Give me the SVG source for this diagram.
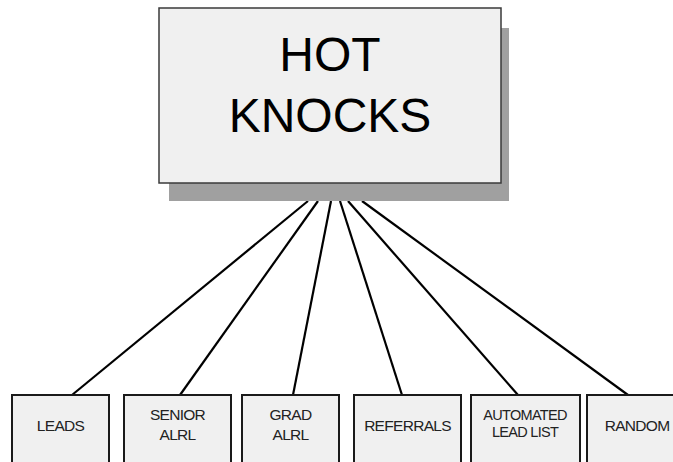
<svg xmlns="http://www.w3.org/2000/svg" width="673" height="462" viewBox="0 0 673 462">
<style>
.box{fill:#f0f0f0;stroke:#1a1a1a;stroke-width:2}
.t{font-family:"Liberation Sans",Arial,sans-serif;fill:#222;text-anchor:middle;font-size:15.5px;letter-spacing:-0.7px}
.big{font-family:"Liberation Sans",Arial,sans-serif;fill:#000;text-anchor:middle;font-size:48px}
.c{stroke:#000;stroke-width:2.2;fill:none}
</style>
<rect width="673" height="462" fill="#fff"/>
<g id="connectors">
<line class="c" x1="308" y1="201" x2="72" y2="395"/>
<line class="c" x1="318" y1="201" x2="180" y2="395"/>
<line class="c" x1="331" y1="201" x2="293" y2="395"/>
<line class="c" x1="340" y1="201" x2="402" y2="395"/>
<line class="c" x1="348" y1="201" x2="518" y2="395"/>
<line class="c" x1="362" y1="201" x2="628" y2="395"/>
</g>
<g id="hot-knocks">
<rect x="169" y="28" width="340" height="173" fill="#a0a0a0"/>
<rect x="159" y="8" width="342" height="175" fill="#f0f0f0" stroke="#3a3a3a" stroke-width="1.5"/>
<text class="big" x="330" y="71">HOT</text>
<text class="big" x="330" y="132">KNOCKS</text>
</g>
<g id="leads">
<rect class="box" x="12" y="395" width="97" height="80"/>
<text class="t" x="60.5" y="431">LEADS</text>
</g>
<g id="senior-alrl">
<rect class="box" x="124" y="395" width="107" height="80"/>
<text class="t" x="177.5" y="420">SENIOR</text>
<text class="t" x="177.5" y="440">ALRL</text>
</g>
<g id="grad-alrl">
<rect class="box" x="242" y="395" width="97" height="80"/>
<text class="t" x="290.5" y="420">GRAD</text>
<text class="t" x="290.5" y="440">ALRL</text>
</g>
<g id="referrals">
<rect class="box" x="354" y="395" width="107" height="80"/>
<text class="t" x="407.5" y="431">REFERRALS</text>
</g>
<g id="automated-lead-list">
<rect class="box" x="471" y="395" width="109" height="80"/>
<text class="t" x="525" y="420" style="font-size:14.5px">AUTOMATED</text>
<text class="t" x="525" y="437" style="font-size:14.5px">LEAD LIST</text>
</g>
<g id="random">
<rect class="box" x="587" y="395" width="100" height="80"/>
<text class="t" x="637" y="431">RANDOM</text>
</g>
</svg>
